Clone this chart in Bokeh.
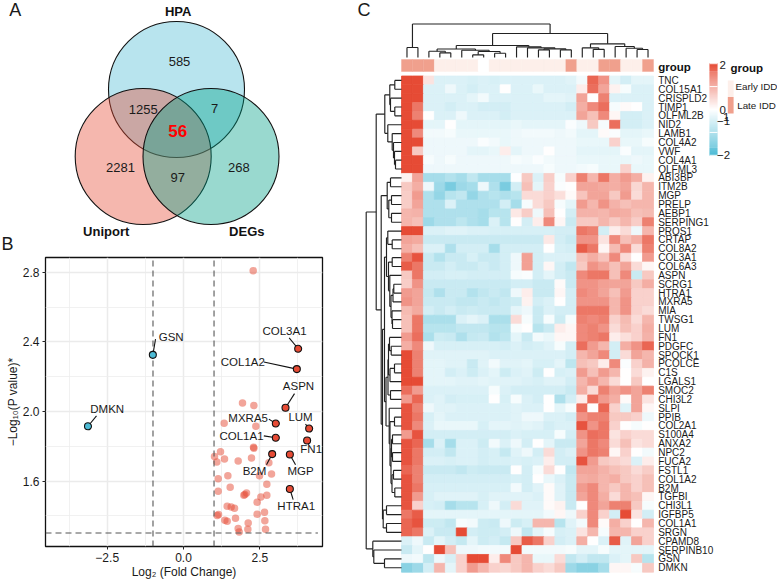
from bokeh.plotting import figure
from bokeh.layouts import row, column
from bokeh.models import (Range1d, FixedTicker, Label, LinearColorMapper, ColumnDataSource)
from bokeh.transform import transform
from bokeh.embed import file_html
from bokeh.resources import INLINE
import numpy as np

FONT = "Liberation Sans"
BLUE, RED, GREEN = "#4DBBD5", "#E64B35", "#00A087"

# ---------- A: Venn ----------
venn_names = ["HPA", "Uniport", "DEGs"]
venn_counts = ["585", "1255", "7", "2281", "97", "268"]
venn_core = "56"

# ---------- B: volcano ----------
sig_genes = ["DMKN", "GSN", "COL3A1", "COL1A2", "ASPN", "MXRA5", "LUM", "COL1A1", "FN1", "B2M", "MGP", "HTRA1"]
sig_fc = [-3.13, -1.005, 3.757, 3.713, 3.342, 3.025, 4.117, 3.025, 4.05, 2.905, 3.484, 3.484]
sig_p = [1.915, 2.326, 2.361, 2.244, 2.022, 1.931, 1.902, 1.849, 1.833, 1.755, 1.753, 1.554]
sig_lab_x = [-2.501, -0.404, 3.309, 1.944, 3.768, 2.119, 3.834, 1.900, 4.183, 2.326, 3.834, 3.692]
sig_lab_y = [2.017, 2.430, 2.462, 2.285, 2.145, 1.965, 1.967, 1.860, 1.784, 1.655, 1.655, 1.457]
sig_end_x = [-2.851, -0.917, 3.462, 2.632, 3.637, 2.796, 3.997, 2.632, 4.107, 2.720, 3.670, 3.593]
sig_end_y = [1.975, 2.416, 2.424, 2.285, 2.103, 1.956, 1.927, 1.860, 1.808, 1.694, 1.694, 1.493]
pale_fc = [2.283, 1.933, 2.305, 1.332, 2.370, 2.294, 2.305, 1.212, 1.016, 1.092, 1.343, 1.791, 2.228, 2.796, 2.883,
           2.490, 2.730, 1.453, 1.136, 1.529, 1.136, 2.064, 1.977, 2.010, 2.730, 2.534, 2.414, 1.431, 1.562, 1.671,
           2.654, 2.414, 1.147, 1.103, 1.354, 1.431, 1.704, 2.665, 2.119, 1.791, 2.108, 2.687, 1.824]
pale_p = [2.810, 2.049, 2.034, 1.933, 1.915, 1.795, 1.789, 1.768, 1.741, 1.709, 1.726, 1.715, 1.732, 1.705, 1.640,
          1.631, 1.581, 1.631, 1.613, 1.564, 1.541, 1.531, 1.518, 1.522, 1.518, 1.508, 1.478, 1.455, 1.451, 1.443,
          1.420, 1.409, 1.407, 1.401, 1.374, 1.369, 1.386, 1.372, 1.359, 1.327, 1.323, 1.323, 1.307]

# ---------- C: heatmap ----------
genes = ["TNC", "COL15A1", "CRISPLD2", "TIMP1", "OLFML2B", "NID2", "LAMB1", "COL4A2", "VWF", "COL4A1", "OLFML3", "ABI3BP",
         "ITM2B", "MGP", "PRELP", "AEBP1", "SERPING1", "PROS1", "CRTAP", "COL8A2", "COL3A1", "COL6A3", "ASPN", "SCRG1",
         "HTRA1", "MXRA5", "MIA", "TWSG1", "LUM", "FN1", "PDGFC", "SPOCK1", "PCOLCE", "C1S", "LGALS1", "SMOC2", "CHI3L2",
         "SLPI", "PPIB", "COL2A1", "S100A4", "ANXA2", "NPC2", "FUCA2", "FSTL1", "COL1A2", "B2M", "TGFBI", "CHI3L1",
         "IGFBP5", "COL1A1", "SRGN", "CPAMD8", "SERPINB10", "GSN", "DMKN"]
sample_group = ["L", "L", "L", "E", "E", "E", "E", "N", "E", "E", "E", "E", "E", "E", "E", "L", "E", "E", "L", "L", "E", "E", "L"]
heat = [
 [2,2,.3,-.4,-.4,-.4,-.45,-.4,-.45,-.4,-.4,-.4,-.4,-.4,-.4,-.35,-.15,1.7,1.2,-.3,-.5,-.3,-.3],
 [2,2,-.4,-.4,-.2,-.4,-.5,-.4,-.4,0,-.4,-.4,-.25,-.4,-.4,-.4,.2,1.6,1.0,.15,-.1,-.4,-.4],
 [2,2,-.4,-.4,-.4,-.4,-.3,-.15,-.4,-.4,-.4,-.4,-.4,-.3,-.3,-.35,1.0,0,1.4,-.4,-.4,-.4,-.4],
 [2,1.5,-.4,-.4,-.5,-.4,-.4,-.5,-.5,-.5,-.4,-.4,-.4,-.4,-.4,-.5,.9,1.3,1.6,-.1,.05,0,-.4],
 [2,1.4,0,-.4,-.4,-.2,-.4,-.4,-.4,-.5,-.4,-.4,-.4,-.4,-.4,-.4,1.0,.7,1.3,.1,-.5,-.5,-.4],
 [2,2,-.3,-.3,0,-.3,-.3,-.3,-.3,-.3,-.25,-.3,-.3,-.3,-.3,-.05,-.2,.6,-.1,1.6,-.5,-.5,-.4],
 [2,1.3,-.15,-.15,-.1,-.25,-.25,-.25,-.25,-.25,-.2,-.15,-.15,-.15,-.2,-.15,-.3,-.3,.05,-.05,-.3,-.3,-.25],
 [2,2,-.2,-.2,-.2,-.2,-.2,-.05,-.15,-.25,-.2,-.2,-.2,-.2,-.2,-.2,-.25,-.25,-.25,.5,-.25,-.25,-.1],
 [2,.6,-.2,-.2,-.2,-.2,-.3,-.3,-.25,.2,-.3,-.2,-.2,0,-.2,-.2,-.3,-.3,-.3,-.3,-.05,-.3,-.3],
 [2,2,-.1,-.2,-.1,-.2,-.2,-.2,-.2,-.2,-.1,-.15,-.05,-.15,-.2,-.2,-.25,-.25,-.25,-.25,-.25,-.2,-.25],
 [2,2,-.2,-.2,-.2,-.2,-.2,-.2,-.2,-.2,-.2,-.2,-.2,-.1,-.2,-.2,-.15,-.1,-.25,-.25,.5,-.25,-.25],
 [.15,1.0,-1,-1,-.85,-1,-.7,-1,-1,-1,-.02,.6,-.4,.55,-.1,.5,1.4,.8,1.5,.9,1.1,.9,.15],
 [.6,.9,-.2,-1.1,-1.5,-1.1,-1,-.2,-.9,-1.5,-.5,.7,-.3,.5,-.05,0,1.0,1.0,.95,.9,1.0,.45,.8],
 [.55,1.1,-.9,-1.2,-.8,-.7,-1.2,-.9,-.8,-.9,-.8,.4,.4,.5,.35,.05,.65,1.0,1.0,.6,1.1,.4,.8],
 [.55,1.0,-.9,-.9,-.4,-.9,-.9,-.9,-.9,-.5,-1,-.1,.4,.6,-.1,-.3,1.1,.8,1.2,.85,.7,.8,.8],
 [.8,.85,-.9,-.9,-.9,-.9,-.9,-1,-.8,-.8,.25,.55,-.2,.7,0,-.5,.85,.85,.8,.95,.9,.7,.75],
 [.8,.7,-1.1,-.9,-.9,-.75,-.9,-1,-.4,-.8,.02,-.5,.2,1.3,.1,-.6,.6,.6,.8,.6,.8,.55,1.4],
 [2,2,-.4,-.4,-.35,-.35,-.4,-.4,-.45,-.45,-.45,-.45,-.45,-.45,-.5,-.5,1.5,1.4,-.5,.2,.4,-.2,.8],
 [1.0,.95,-.6,-.6,-.6,-.6,-.6,-.6,-.6,-.6,-.6,-.6,-.6,.25,-.5,-.6,1.2,1.2,.3,1.3,.7,.9,1.5],
 [.9,.7,-.4,-.4,-.9,-.5,-.5,-.5,-1,-.5,-.5,-.5,-.5,0,-.45,-.5,1.8,1.5,.1,.75,1.3,.4,1.4],
 [1.4,1.9,-.6,-.85,-.6,-.6,-.45,-.6,-.6,-.5,-.2,1.05,-.5,-.4,-.4,-.4,.7,.9,.65,1.3,.4,0,1.1],
 [1.8,1.5,-.6,-.6,-.5,-.6,-.6,-.5,-.6,-.5,-.2,1.05,-.5,.1,-.5,-.7,.6,1.2,1.0,.7,1.0,.4,.1],
 [.6,1.5,-.5,-.5,-.45,-.45,-.5,-.5,-.5,-.5,-.1,-.05,-.5,-.3,-.5,-.6,1.3,1.5,1.5,.7,1.3,-.6,.6],
 [.55,1.2,-.6,-.6,-.6,-.6,-.6,-.6,-.6,-.6,-.5,-.5,-.6,-.6,.05,-.6,1.2,1.2,1.05,1.0,1.0,.6,.9],
 [1.1,1.0,-.65,-.9,-.6,-.6,-.85,-.7,-.6,-.7,-.2,.2,-.6,-.6,.1,-.5,1.3,1.2,1.0,.7,1.1,.5,.5],
 [1.2,1.0,-.6,-.6,-.6,-.7,-.7,-.6,-.7,-.6,-.55,.15,-.5,-.4,0,-.5,1.2,1.2,1.2,.8,1.2,.5,.5],
 [.75,.95,-.5,-.6,-.5,-.6,-.55,-.6,-.6,-.6,-.3,-.2,-.6,-.4,-.5,-.5,1.5,1.5,1.5,.8,1.2,.5,.4],
 [.7,1.5,-.95,-.95,-.95,-.4,-.3,-.4,-.95,-.95,.4,-.1,-.6,-.1,-.55,-.1,1.4,1.3,1.4,.5,.75,.4,.8],
 [.7,1.5,-.8,-.8,-.8,-.7,-.7,-.7,-.8,-.8,-.1,0,-.8,-.6,.2,.1,1.3,1.4,1.2,.4,.7,.5,.9],
 [1.1,1.6,-.95,-.55,-.6,-.9,-.65,-.6,-.85,-.75,-.3,-.6,-.15,-.25,.1,.1,1.3,1.4,1.5,.2,.35,.5,.85],
 [.9,1.3,-.2,-.45,-.45,-.45,-.45,-.45,-.45,-.5,-.4,-.5,-.45,-.35,-.1,-.5,1.6,1.1,.8,-.5,.9,1.2,1.7],
 [2,1.4,-.35,-.35,-.35,-.35,-.35,-.35,-.4,-.4,-.4,-.4,-.4,-.4,-.4,-.5,.8,1.0,1.3,-.5,.4,1.0,.8],
 [2,1.4,-.3,-.3,-.35,-.35,-.6,-.35,-.15,-.35,-.35,-.3,-.45,-.45,-.3,-.75,.7,.6,.2,1.3,-.05,.5,.85],
 [2,1.4,-.3,-.3,-.5,-.4,-.55,-.4,-.3,-.55,-.4,-.35,-.55,0,-.45,-.4,1.1,.7,1.1,.8,0,.4,.15],
 [2,2,-.3,-.3,-.3,-.35,-.35,-.3,-.35,-.35,-.35,-.4,-.45,-.35,-.35,-.5,.8,1.1,.8,.4,0,.6,0],
 [1.6,1.1,-.4,-.4,-.4,-.4,-.4,-.4,-.1,-.4,-.5,-.5,-.5,-.5,-.5,-.6,.9,.4,1.4,1.0,1.2,1.0,1.4],
 [1.1,1.7,-.4,-.35,-.5,-.45,-.45,-.45,0,-.45,-.1,-.4,-.5,0,-.9,-.5,.2,1.6,1.1,.9,.05,1.0,.3],
 [1.9,1.4,-.2,-.35,-.35,-.4,-.4,-.4,-.4,-.4,-.35,-.4,-.4,0,-.3,-.1,1.6,0,1.7,.5,-.35,1.0,.1],
 [1.9,1.5,-.45,-.3,-.4,-.4,-.4,-.4,-.4,-.4,-.35,-.2,-.2,-.4,-.4,-.5,1.2,1.4,1.4,.6,.6,.5,-.2],
 [1.9,1.3,-.4,-.25,-.25,-.25,-.25,-.45,-.3,-.3,-.35,-.3,-.35,-.5,-.4,-.4,1.9,1.2,1.5,.5,0,-.1,0],
 [1.1,1.9,-.5,-.5,-.5,-.5,-.5,-.5,-.5,-.5,-.4,-.45,-.45,-.45,-.1,-.5,1.2,1.6,1.5,.3,.5,.4,.4],
 [1.9,1.7,-1,-.4,-1,-.4,-.4,-.55,-.15,-.4,-.2,-.5,0,-.3,-.6,-.6,1.0,1.5,1.3,.4,.7,.3,.4],
 [1.9,1.5,-.5,-.5,-.7,-.4,-.4,-.5,-.45,-.65,-.35,-.2,-.5,.4,-.5,-.4,1.2,1.5,1.4,.1,.5,0,-.15],
 [1.9,1.5,-.4,-.4,-.45,-.4,-.4,-.5,-.45,-.45,-.4,-.45,-.4,.2,-.5,-.5,1.9,1.1,.6,.5,.4,-.4,.2],
 [1.7,1.4,-.6,-.6,-.6,-.7,-.55,-.6,-.6,-.6,0,-.5,-.1,.4,0,-.7,1.0,1.0,.85,.7,.6,.4,.55],
 [1.9,1.4,-.5,-.5,-.5,-.5,-.5,-.5,-.5,-.5,-.45,-.5,0,-.25,-.4,-.6,.9,.95,.8,.9,.6,.5,.7],
 [1.9,1.5,-.45,-.45,-.45,-.45,-.45,-.45,-.45,-.45,-.15,-.5,-.35,.05,-.35,-.6,1.1,1.3,.8,.6,.8,.5,.7],
 [1.9,1.1,-.45,-.35,-.35,-.35,-.35,-.45,-.35,-.35,-.35,-.35,-.4,.05,-.35,-.6,1.0,1.3,.9,.4,.8,.7,.1],
 [1.9,.5,-.45,-.5,-1,-.8,-.8,-.45,-.2,-.5,.4,-.35,-.35,.05,.15,-.6,0,1.3,1.0,1.4,1.4,.6,-.1],
 [1.5,1.8,-.3,-.3,-.3,-.3,-.3,-.3,-.3,-.3,-.3,-.3,-.3,-.15,.1,-.2,.5,1.3,.5,-.5,2,.3,-.5],
 [1.7,1.9,-.55,-.55,-.7,-.1,-.15,-.55,-.6,-.2,-.55,-.45,.8,.8,-.8,-.35,-.15,1.3,.05,.9,.5,0,.8],
 [1.7,1.5,-.4,-.6,-.6,2,-.5,-.55,-.55,-.5,-.2,-.7,-.3,-.1,-.45,-.4,.3,.8,-.1,.8,.8,.5,.5],
 [-.4,-.2,-.6,-.3,-.5,-.65,-.3,-.55,-.5,-.65,.6,1.8,1.5,.5,-.5,-.4,.9,0,-.4,1.8,-.35,1.0,.5],
 [-.6,-.3,0,2,.7,-.2,-.2,-.15,-.15,-.15,2,-.15,-.15,-.15,-.15,-.1,-.3,-.3,-.1,-.3,-.3,-.3,-.3],
 [-.2,-.15,-.75,-.2,-.45,.5,2,2,.2,1.3,.6,.8,-.25,-.25,.4,-.7,-.5,-.7,-.7,-.4,-.3,.6,-.8],
 [-1.3,-1.1,-.5,.8,-.3,.5,1.1,.8,.5,.45,.6,.8,.5,.4,.6,-1.1,-1.3,-1.3,-1,.1,.1,-.1,.6],
]
# merge trees: (height in px from the heatmap edge, left, right); leaves are row/column indexes
row_tree = (35.3,
  (25.3,
    (16.7,
      (11.7, (6.7, 0, 1), (11, 2, (6.7, 3, 4))),
      (13.7, 5, (9.3, 6, (8, 7, (7, 8, (6, 9, 10)))))),
    (20.3,
      (14.3, (11, 11, 12), (12.7, (10, 13, 14), (10, 15, 16))),
      (19,
        (17,
          (15, (13.7, 17, (9.3, 18, 19)),
               (13, (9.3, 20, 21),
                    (11.7, 22, (10.5, (8.5, (7.7, 23, 24), 25), (9.5, 26, (9, 27, 28)))))),
          (15.5,
            (13.5, (13, (12, 29, (10.3, 30, 31)), (11.5, (7, 32, 33), 34)), (11, 35, 36)),
            (12.3, 37, (11.5, (7, 38, 39),
               (10.5, (10, (9, 40, 41), (9, 42, 43)), (9.5, (8, 44, 45), (6.7, 46, 47))))))),
        (18.3, (15, 48, 49), (15, 50, 51))))),
  (28.7, 52, (27.7, 53, (17, 54, 55))))
col_tree = (33.5,
  (10, 0, 1),
  (24,
    (12,
      (8.5, (6.3, 2, (4.7, 3, 4)), (7.3, 5, (6, (2.7, 6, 7), (4.3, 8, 9)))),
      (10.7, 10, (9.7, 11, (8.7, (7.7, 12, 13), (7.7, 14, 15))))),
    (13.7, (9.7, 16, (8.2, 17, 18)), (11, 19, (9.3, 20, (8, 21, 22))))))
legend_ticks = [2, 1, 0, -1, -2]

INK = "#1a1a1a"

def bare(w, h, xr, yr):
    p = figure(width=w, height=h, x_range=Range1d(*xr), y_range=Range1d(*yr), output_backend="svg",
               toolbar_location=None, min_border=0, outline_line_color=None, frame_align=False)
    p.axis.visible = False
    p.grid.visible = False
    return p

def txt(p, x, y, s, size, bold=False, align="center", color=INK):
    p.add_layout(Label(x=x, y=y, text=s, text_font=FONT, text_font_size=f"{size}px",
                       text_font_style="bold" if bold else "normal", text_align=align,
                       text_baseline="middle", text_color=color))

# ---- A ----
pa = bare(340, 255, (0, 340), (255, 0))
pa.circle(x=[176, 142.7, 210.5], y=[89, 156, 156], radius=68, fill_color=[BLUE, RED, GREEN],
          fill_alpha=0.4, line_color="#111111", line_width=1.1)
for s, x, y in zip(venn_names, [177.7, 105.7, 246.3], [10.7, 231, 231]):
    txt(pa, x, y, s, 13, bold=True, color="#111111")
for s, x, y in zip(venn_counts, [179, 142.7, 214, 120, 177.3, 238.3], [60.7, 109, 108.3, 167.3, 177, 166.7]):
    txt(pa, x, y, s, 13)
txt(pa, 177.3, 130.7, venn_core, 17, bold=True, color="#FF0000")
txt(pa, 14.7, 9, "A", 18)
txt(pa, 7, 243, "B", 18)

# ---- B ----
XL, XR, YB, YT = -4.522, 4.554, 1.2233, 2.886
pb = figure(width=340, height=326, x_range=Range1d(XL, XR), y_range=Range1d(YB, YT), output_backend="svg",
            toolbar_location=None, min_border_left=45, min_border_right=18, min_border_top=2, min_border_bottom=34,
            outline_line_color="#111111", outline_line_width=1.3, frame_align=False,
            x_axis_label="Log\u2082 (Fold Change)", y_axis_label="\u2212Log\u2081\u2080(P value)*")
pb.xaxis.ticker = FixedTicker(ticks=[-2.5, 0, 2.5], minor_ticks=[-3.75, -1.25, 1.25, 3.75])
pb.yaxis.ticker = FixedTicker(ticks=[1.6, 2.0, 2.4, 2.8], minor_ticks=[1.4, 1.8, 2.2, 2.6])
pb.xaxis.major_label_overrides = {-2.5: "\u22122.5", 0: "0.0", 2.5: "2.5"}
pb.yaxis.major_label_overrides = {1.6: "1.6", 2: "2.0", 2.4: "2.4", 2.8: "2.8"}
for ax in (pb.xaxis[0], pb.yaxis[0]):
    ax.axis_line_color = None
    ax.major_tick_line_color = "#222222"
    ax.major_tick_out = 3
    ax.major_tick_in = 0
    ax.minor_tick_line_color = None
    ax.major_label_text_font = FONT
    ax.major_label_text_font_size = "12px"
    ax.major_label_text_color = INK
    ax.major_label_standoff = 2
    ax.axis_label_text_font = FONT
    ax.axis_label_text_font_size = "12px"
    ax.axis_label_text_font_style = "normal"
    ax.axis_label_text_color = INK
    ax.axis_label_standoff = 0
for g in (pb.xgrid[0], pb.ygrid[0]):
    g.grid_line_color = "#EBEBEB"
    g.grid_line_width = 1.5
    g.minor_grid_line_color = "#EEEEEE"
    g.minor_grid_line_width = 0.8
pb.scatter(pale_fc, pale_p, size=7.5, fill_color=RED, fill_alpha=0.5, line_color=None)
pb.segment(x0=[-1, 1, XL], x1=[-1, 1, XR - 0.15], y0=[YB, YB, 1.301], y1=[YT, YT, 1.301],
           line_color="#555555", line_width=1.1, line_dash="6 4")
pb.segment(x0=sig_fc, y0=sig_p, x1=sig_end_x, y1=sig_end_y, line_color="#111111", line_width=1.1)
cols = [BLUE if v < 0 else RED for v in sig_fc]
pb.scatter(sig_fc, sig_p, size=7, fill_color=cols, line_color="#111111", line_width=1.1)
for s, x, y in zip(sig_genes, sig_lab_x, sig_lab_y):
    txt(pb, x, y, s, 11.5)

# ---- C ----
CW, CH = 252 / 23, (571.7 - 75.5) / 56
def X(px):
    return (px - 401) / CW
def Y(py):
    return (py - 75.5) / CH

pc = bare(437, 581, (X(340), X(777)), (Y(581), Y(0)))
mat = np.array(heat, dtype=float)
n_r, n_c = mat.shape

def ramp():
    stops = []
    for v in np.linspace(-2, 2, 256):
        end, t = ((0x4D, 0xBB, 0xD5), -v / 2) if v < 0 else ((0xE6, 0x4B, 0x35), v / 2)
        stops.append("#%02X%02X%02X" % tuple(int(round(255 + (e - 255) * t)) for e in end))
    return stops

mapper = LinearColorMapper(palette=ramp(), low=-2, high=2)
rr, cc = np.meshgrid(np.arange(n_r), np.arange(n_c), indexing="ij")
src = ColumnDataSource(dict(x=cc.ravel() + .5, y=rr.ravel() + .5, v=mat.ravel()))
pc.rect("x", "y", width=1, height=1, source=src, fill_color=transform("v", mapper),
        line_color=transform("v", mapper), line_width=0.8)

group_colors = {"L": "#F0A08D", "E": "#FDEFEA", "N": "#FFFFFF"}
pc.rect(x=np.arange(n_c) + .5, y=Y(65), width=1, height=12 / CH,
        fill_color=[group_colors[g] for g in sample_group], line_color=[group_colors[g] for g in sample_group],
        line_width=0.4)
txt(pc, X(657.7), Y(66), "group", 11.5, bold=True, align="left", color="#111111")
for i, g in enumerate(genes):
    txt(pc, X(657.7), i + .5, g, 10, align="left")

def tree_xy(node, segs):
    if isinstance(node, int):
        return node + .5, 0.0
    h, a, b = node
    pa_, ha = tree_xy(a, segs)
    pb_, hb = tree_xy(b, segs)
    segs.append(((pa_, ha), (pa_, h)))
    segs.append(((pb_, hb), (pb_, h)))
    segs.append(((pa_, h), (pb_, h)))
    return (pa_ + pb_) / 2, h

segs = []
tree_xy(row_tree, segs)
pc.multi_line([[-s[0][1] / CW, -s[1][1] / CW] for s in segs], [[s[0][0], s[1][0]] for s in segs],
              line_color="#222222", line_width=1.15)
segs = []
tree_xy(col_tree, segs)
pc.multi_line([[s[0][0], s[1][0]] for s in segs], [[Y(57 - s[0][1]), Y(57 - s[1][1])] for s in segs],
              line_color="#222222", line_width=1.15)

# colour legend
lv = np.linspace(2, -2, 92)
def tick_y(v):
    return Y(109 - v * 22.9)
leg = ColumnDataSource(dict(y=[tick_y(v) for v in lv], v=lv))
pc.rect(x=X(713), y="y", width=8 / CW, height=1.25 / CH, source=leg, fill_color=transform("v", mapper),
        line_color=None)
pc.segment(x0=X(709), x1=X(717), y0=[tick_y(v) for v in legend_ticks], y1=[tick_y(v) for v in legend_ticks],
           line_color="#FFFFFF", line_width=1)
txt(pc, X(719), Y(64), "2", 11.5, align="left")
txt(pc, X(719), Y(109), "0", 11.5, align="left")
txt(pc, X(722.5), Y(116.5), "1", 11.5, align="left")
txt(pc, X(716.5), Y(120), "\u22121", 11.5, align="left")
txt(pc, X(716.5), Y(154), "\u22122", 11.5, align="left")
txt(pc, X(730), Y(67), "group", 11.5, bold=True, align="left", color="#111111")
pc.rect(x=X(730.2), y=[Y(88.3), Y(104.8)], width=5.8 / CW, height=16.4 / CH,
        fill_color=["#FDEFEA", "#F0A08D"], line_color=None)
txt(pc, X(735), Y(86), "Early IDD", 9.8, align="left")
txt(pc, X(736.7), Y(105), "Late IDD", 9.8, align="left")
txt(pc, X(363.5), Y(9), "C", 18)

root = row(column(pa, pb, spacing=0), pc, spacing=0,
           styles={"position": "absolute", "left": "0px", "top": "0px"})
open("out.html", "w").write(file_html(root, INLINE))
